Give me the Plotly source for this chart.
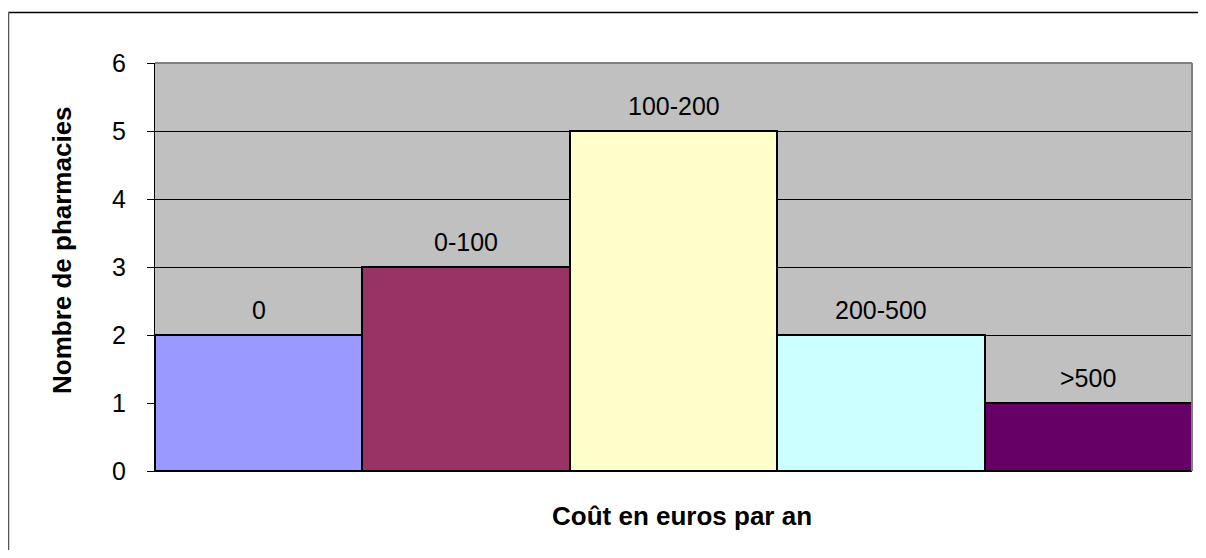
import plotly.graph_objects as go

categories = ["0", "0-100", "100-200", "200-500", ">500"]
counts = [2, 3, 5, 2, 1]
colors = ["#9999FF", "#993366", "#FFFFCC", "#CCFFFF", "#660066"]
y_ticks = [0, 1, 2, 3, 4, 5, 6]

FONT = "Liberation Sans, Arial, sans-serif"

# page body has an 8px margin, so the figure starts at (8, 8) on screen;
# keep the page inside the window so no scrollbars appear
OFF = 8
W, H = 1206 - 2 * OFF, 558 - 2 * OFF
# plot area in screen coordinates
SL, SR, ST, SB = 155, 1192, 63, 471
L, R, T, B = SL - OFF, SR - OFF, ST - OFF, SB - OFF
pw, ph = R - L, B - T


def px(sx):
    return (sx - SL) / pw


def py(sy):
    return (SB - sy) / ph


fig = go.Figure(go.Bar(
    x=categories, y=counts,
    marker=dict(color=colors, line=dict(color="black", width=2)),
    width=1.0, hoverinfo="x+y",
))

label_annotations = [
    dict(x=c, y=v, xref="x", yref="y", text=c, showarrow=False,
         yanchor="bottom", yshift=9,
         font=dict(family=FONT, size=25, color="black"))
    for c, v in zip(categories, counts)
]

fig.update_layout(
    width=W, height=H,
    margin=dict(l=L, r=W - R, t=T, b=H - B, pad=0, autoexpand=False),
    paper_bgcolor="white", plot_bgcolor="#C0C0C0",
    bargap=0, showlegend=False,
    font=dict(family=FONT, size=25, color="black"),
    xaxis=dict(
        showticklabels=False, ticks="", showgrid=False, zeroline=False,
        showline=True, linecolor="black", linewidth=1,
        range=[-0.5, 4.5],
    ),
    yaxis=dict(
        range=[0, 6], tickvals=y_ticks, ticks="outside", ticklen=7,
        tickcolor="black", tickwidth=1, ticklabelstandoff=16,
        showgrid=True, gridcolor="black", gridwidth=1, zeroline=False,
        showline=True, linecolor="black", linewidth=1,
        tickfont=dict(family=FONT, size=25),
    ),
    annotations=label_annotations + [
        dict(xref="paper", yref="paper", x=px(682), y=py(516),
             text="<b>Coût en euros par an</b>", showarrow=False,
             xanchor="center", yanchor="middle",
             font=dict(family=FONT, size=26, color="black")),
        dict(xref="paper", yref="paper", x=px(62), y=py(250),
             text="<b>Nombre de pharmacies</b>", showarrow=False, textangle=-90,
             xanchor="center", yanchor="middle",
             font=dict(family=FONT, size=26, color="black")),
    ],
    shapes=[
        # outer chart border (only top and left edges fall inside the window)
        dict(type="line", xref="paper", yref="paper",
             x0=px(8.5), x1=px(1240), y0=py(12.5), y1=py(12.5),
             line=dict(color="black", width=1.5), layer="below"),
        dict(type="line", xref="paper", yref="paper",
             x0=px(8.5), x1=px(8.5), y0=py(12.5), y1=py(590),
             line=dict(color="#555555", width=1.5), layer="below"),
        # plot-area border on top and right
        dict(type="line", xref="paper", yref="paper", x0=0, x1=1, y0=1, y1=1,
             line=dict(color="#808080", width=2)),
        dict(type="line", xref="paper", yref="paper", x0=1, x1=1, y0=0, y1=1,
             line=dict(color="#808080", width=2)),
    ],
)

fig.write_html("out.html")
